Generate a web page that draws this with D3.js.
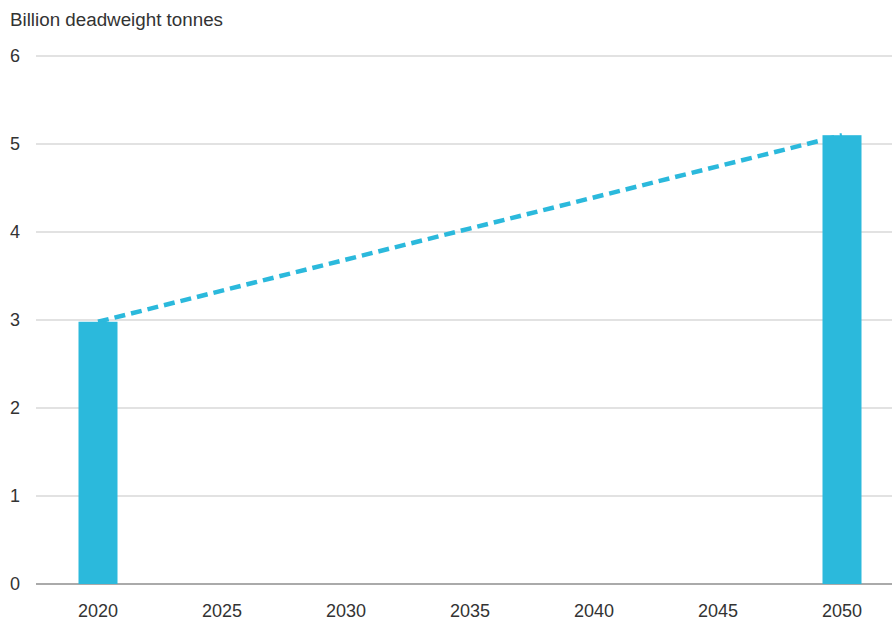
<!DOCTYPE html>
<html><head><meta charset="utf-8">
<script src="https://cdn.jsdelivr.net/npm/d3@7"></script>
<style>body{margin:0;background:#fff}svg{display:block;font-family:"Liberation Sans",Arial,sans-serif}</style>
</head><body><svg id="c" width="892" height="620"></svg>
<script>
const years = [2020, 2050];
const barValues = [2.98, 5.1];
const lineYears = [2020, 2050];
const lineValues = [2.98, 5.1];
const xTicks = [2020, 2025, 2030, 2035, 2040, 2045, 2050];
const yTicks = [0, 1, 2, 3, 4, 5, 6];
const yTitle = "Billion deadweight tonnes";

const svg = d3.select("#c");
const x = d3.scaleLinear().domain([2020, 2050]).range([98, 842]);
const y = d3.scaleLinear().domain([0, 6]).range([584, 56]);
const color = "#2bb9dc";
const barW = 39;
const fs = 18;

svg.append("text").attr("x", 10).attr("y", 26).attr("font-size", 18.8).attr("fill", "#333").text(yTitle);

const g = svg.append("g");
g.selectAll("line.grid").data(yTicks).join("line")
  .attr("x1", 36).attr("x2", 892)
  .attr("y1", d => y(d)).attr("y2", d => y(d))
  .attr("stroke", d => d === 0 ? "#aaa" : "#d9d9d9")
  .attr("stroke-width", d => d === 0 ? 2 : 1.5);

g.selectAll("text.yl").data(yTicks).join("text")
  .attr("x", 15).attr("y", d => y(d)).attr("dy", "0.35em")
  .attr("text-anchor", "middle").attr("font-size", fs).attr("fill", "#333")
  .text(d => d);

g.selectAll("text.xl").data(xTicks).join("text")
  .attr("x", d => x(d)).attr("y", 617)
  .attr("text-anchor", "middle").attr("font-size", fs).attr("fill", "#333")
  .text(d => d);

const line = d3.line().x((d, i) => x(lineYears[i])).y(d => y(d));
svg.append("path").datum(lineValues).attr("d", line)
  .attr("fill", "none").attr("stroke", color).attr("stroke-width", 4.5)
  .attr("stroke-dasharray", "11,6");

svg.selectAll("rect.bar").data(barValues).join("rect")
  .attr("x", (d, i) => x(years[i]) - barW / 2).attr("width", barW)
  .attr("y", d => y(d)).attr("height", d => y(0) - y(d))
  .attr("fill", color);
</script></body></html>
